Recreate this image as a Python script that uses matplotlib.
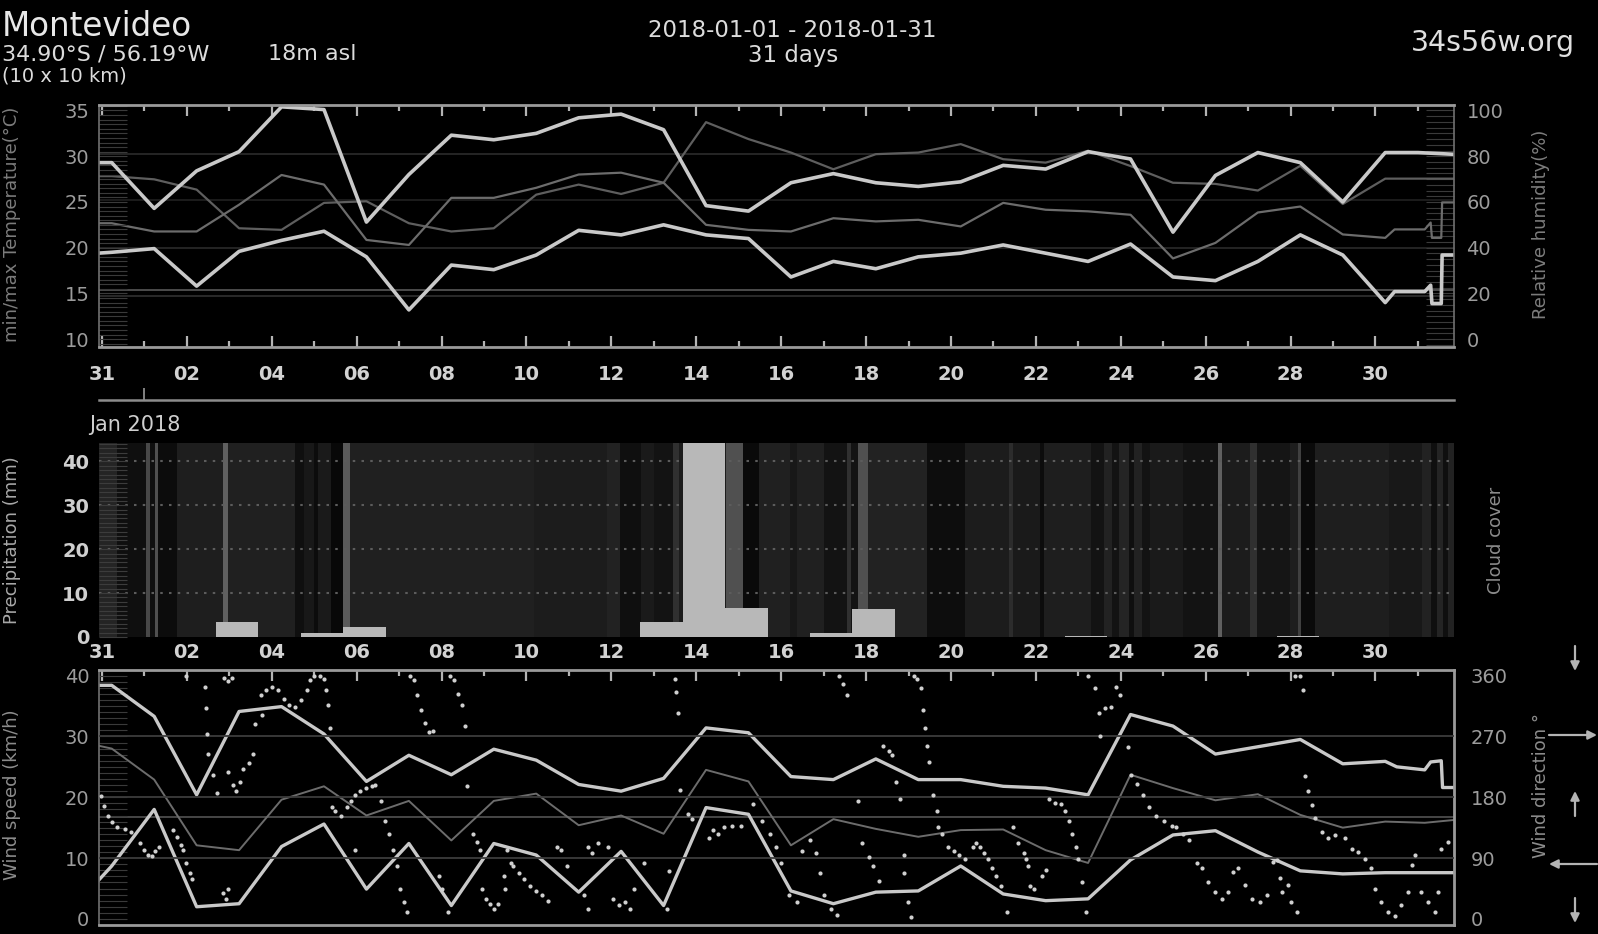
import numpy as np
import matplotlib
matplotlib.use("Agg")
import matplotlib.pyplot as plt
from matplotlib.colors import LinearSegmentedColormap
from matplotlib.ticker import MultipleLocator, FixedLocator

# ------------------------------------------------------------------ data
# day number 0 = Dec 31, 1 = Jan 01 ... ; daily values for days 0..30
days = list(range(31))
tick_days = list(range(0, 31, 2))
tick_labels = ["31"] + ["%02d" % d for d in range(2, 31, 2)]

tmax = [29.3, 24.3, 28.4, 30.5, 35.4, 35.1, 22.8, 28.0, 32.3, 31.8, 32.5, 34.2, 34.6, 32.9, 24.6, 24.0,
        27.1, 28.1, 27.1, 26.7, 27.2, 29.0, 28.6, 30.5, 29.7, 21.7, 27.9, 30.4, 29.3, 25.0, 30.4]
tmin = [19.5, 19.9, 15.8, 19.6, 20.8, 21.8, 19.0, 13.2, 18.1, 17.6, 19.2, 21.9, 21.4, 22.5, 21.4, 21.0,
        16.8, 18.5, 17.7, 19.0, 19.4, 20.3, 19.4, 18.5, 20.4, 16.8, 16.4, 18.5, 21.4, 19.2, 14.0]
rh_a = [71.3, 69.9, 65.4, 48.5, 47.8, 59.6, 60.3, 50.7, 47.1, 48.5, 63.2, 67.6, 63.5, 68.4, 94.9, 87.5,
        81.6, 74.3, 80.9, 81.6, 85.3, 78.7, 77.2, 82.4, 75.7, 68.4, 67.9, 65.0, 75.8, 59.1, 70.2]
rh_b = [50.7, 47.1, 47.1, 58.8, 71.8, 67.6, 43.4, 41.2, 61.8, 61.8, 66.2, 72.0, 72.8, 68.4, 50.0, 47.8,
        47.1, 52.9, 51.5, 52.2, 49.3, 59.6, 56.6, 55.9, 54.4, 35.3, 42.1, 55.4, 58.0, 45.8, 44.3]
# first-hour values and hourly tail at the end of the period
tmax_start, tmin_start, rh_a_start, rh_b_start = 29.3, 19.4, 71.3, 50.7
tmax_tail_t, tmax_tail = [31.0, 31.9], [30.4, 30.2]
tmin_tail_t = [30.45, 31.16, 31.30, 31.33, 31.55, 31.57, 31.9]
tmin_tail = [15.2, 15.2, 15.9, 13.9, 13.9, 19.2, 19.2]
rh_a_tail_t, rh_a_tail = [31.9], [70.2]
rh_b_tail_t = [30.45, 31.16, 31.30, 31.33, 31.55, 31.57, 31.9]
rh_b_tail = [48.0, 48.0, 51.0, 44.3, 44.3, 59.8, 59.8]

precip_day = [3, 5, 6, 13, 14, 15, 17, 18, 23, 28]
precip_mm = [3.4, 0.8, 2.3, 3.4, 52.0, 6.5, 0.9, 6.3, 0.2, 0.3]

cloud_edges = [-0.1, 0.36, 1.04, 1.12, 1.26, 1.33, 1.76, 2.84, 2.98, 4.55, 4.75, 5.0, 5.1, 5.4, 5.68,
               5.85, 10.18, 11.9, 12.2, 12.7, 13.0, 13.45, 13.6, 14.7, 15.1, 15.47, 16.2, 16.37, 17.0,
               17.54, 17.65, 17.8, 18.05, 19.43, 20.33, 21.37, 21.45, 22.1, 22.2, 23.3, 23.6, 23.8,
               23.95, 24.2, 24.3, 24.5, 24.7, 25.47, 26.28, 26.38, 27.05, 27.2, 27.98, 28.18, 28.25,
               28.57, 30.33, 31.1, 31.3, 31.45, 31.6, 31.7, 31.9]
cloud_cover = [30, 10, 64, 10, 71, 7, 24, 87, 26, 10, 18, 7, 20, 3, 81,
               26, 22, 28, 10, 20, 14, 41, 22, 71, 5, 26, 18, 26,
               14, 41, 14, 71, 28, 8, 22, 37, 20, 7, 24, 14, 28,
               14, 30, 10, 28, 14, 20, 14, 87, 22, 41, 15, 24, 56,
               5, 24, 18, 28, 10, 30, 10, 28]

wmax = [38.4, 33.3, 20.4, 34.1, 34.9, 30.4, 22.6, 26.9, 23.7, 27.9, 26.1, 22.1, 21.0, 23.1, 31.4, 30.6,
        23.4, 22.9, 26.3, 22.9, 22.9, 21.8, 21.5, 20.4, 33.6, 31.7, 27.1, 28.3, 29.5, 25.5, 25.9]
wmean = [28.0, 22.9, 12.1, 11.3, 19.6, 21.8, 17.0, 19.4, 12.9, 19.4, 20.6, 15.4, 17.0, 14.0, 24.5, 22.6,
         12.1, 16.4, 14.8, 13.5, 14.6, 14.7, 11.3, 9.2, 23.7, 21.5, 19.5, 20.5, 17.1, 15.0, 16.0]
wmin = [8.7, 18.0, 2.0, 2.5, 11.9, 15.6, 4.9, 12.4, 2.2, 12.4, 10.5, 4.4, 11.1, 2.2, 18.3, 17.2,
        4.6, 2.5, 4.4, 4.6, 8.7, 4.1, 3.0, 3.3, 9.7, 13.8, 14.5, 11.0, 7.9, 7.4, 7.6]
wmax_start, wmean_start, wmin_start = 38.4, 28.5, 6.2
wmax_tail_t = [30.5, 31.16, 31.30, 31.55, 31.58, 31.9]
wmax_tail = [25.0, 24.5, 25.8, 26.0, 21.6, 21.6]
wmean_tail_t, wmean_tail = [31.16, 31.9], [15.8, 16.3]
wmin_tail_t, wmin_tail = [31.9], [7.6]

# wind direction observations (day, degrees)
wdir_time = [
    -0.02, 0.05, 0.14, 0.23, 0.36, 0.54, 0.68, 0.90, 0.99, 1.08, 1.17, 1.26, 1.35, 1.67, 1.76, 1.85, 1.91, 1.98, 2.07, 2.12,
    1.98, 2.43, 2.45, 2.48, 2.50, 2.61, 2.70, 2.88, 2.97, 3.06, 2.84, 2.93, 2.97, 2.97, 3.08, 3.15, 3.24, 3.33, 3.47, 3.56,
    3.60, 3.78, 3.74, 3.87, 4.00, 4.14, 4.28, 4.41, 4.55, 4.68, 4.82, 4.91, 5.00, 5.14, 5.23, 5.27, 5.32, 5.36,
    5.41, 5.50, 5.63, 5.77, 5.86, 5.95, 6.08, 6.22, 6.35, 6.44, 5.95, 6.58, 6.67, 6.76, 6.85, 6.94, 7.03, 7.12, 7.19,
    7.25, 7.34, 7.43, 7.52, 7.61, 7.70, 7.79, 8.20, 8.29, 8.38, 8.47, 8.56, 8.60, 7.93, 8.02, 8.15,
    8.74, 8.83, 8.90, 8.96, 9.05, 9.14, 9.23, 9.32, 9.46, 9.55, 9.64, 9.68, 9.50, 9.82, 9.95, 10.09, 10.23, 10.36, 10.50,
    10.72, 10.81, 10.95, 11.44, 11.55, 11.35, 11.44,
    11.68, 11.91, 12.05, 12.18, 12.32, 12.45, 12.54, 12.77, 13.30, 13.35, 13.49, 13.53, 13.58, 13.62, 13.80, 13.89,
    14.30, 14.39, 14.52, 14.66, 14.84, 15.06, 15.33, 15.56, 15.74, 15.87, 16.00, 16.19, 16.37, 16.50, 16.68, 16.82,
    16.91, 17.00, 17.18, 17.32,
    17.36, 17.45, 17.54, 17.81, 17.90, 18.08, 18.17, 18.30, 18.40, 18.53, 18.62, 18.71, 18.80, 18.89, 18.89, 18.98,
    19.07, 19.12, 19.21, 19.30, 19.34, 19.38, 19.43, 19.48, 19.57, 19.66, 19.70, 19.79, 19.93, 20.06, 20.20, 20.33,
    20.51, 20.60, 20.69, 20.78, 20.87, 20.96, 21.05, 21.19, 21.32,
    21.46, 21.59, 21.73, 21.77, 21.82, 21.86, 21.95, 22.14, 22.23, 22.32, 22.45, 22.59, 22.68, 22.77, 22.86, 22.95,
    22.99, 23.08, 23.17, 23.22, 23.40, 23.49, 23.50, 23.62, 23.76, 23.89, 23.98, 24.16, 24.25, 24.39, 24.52, 24.66,
    24.84, 25.02, 25.20, 25.29, 25.47, 25.60, 25.80,
    25.91, 26.06, 26.22, 26.38, 26.53, 26.65, 26.77, 26.93, 27.08, 27.28, 27.44, 27.59, 27.67, 27.75, 27.79, 27.95,
    28.02, 28.14, 28.10, 28.22, 28.30, 28.34, 28.42, 28.50, 28.57, 28.73, 28.89, 29.04, 29.28, 29.44, 29.60, 29.75,
    29.90, 29.98, 30.14, 30.30, 30.45, 30.61, 30.77, 30.85, 30.93, 31.08, 31.24, 31.40, 31.47, 31.55, 31.71]
wdir_deg = [
    182, 167, 153, 143, 136, 133, 129, 112, 102, 95, 93, 100, 107, 131, 121, 109, 102, 83, 68, 59,
    359, 343, 312, 273, 244, 213, 186, 357, 352, 357, 39, 30, 44, 218, 198, 189, 203, 222, 230, 244,
    288, 302, 331, 338, 343, 338, 326, 316, 314, 324, 338, 353, 359, 359, 355, 338, 316, 283,
    165, 160, 153, 165, 174, 184, 189, 194, 196, 198, 102, 174, 145, 126, 102, 78, 44, 25, 10,
    359, 353, 331, 309, 290, 276, 278, 359, 353, 333, 316, 285, 196, 63, 44, 10,
    126, 114, 102, 44, 30, 22, 15, 22, 63, 102, 83, 78, 44, 68, 59, 49, 42, 35, 27,
    107, 102, 78, 107, 97, 35, 15,
    112, 107, 30, 20, 25, 15, 44, 83, 15, 71, 355, 336, 304, 191, 155, 148,
    119, 131, 126, 136, 138, 138, 170, 145, 126, 107, 83, 35, 25, 100, 117, 97,
    68, 35, 15, 6,
    359, 348, 331, 174, 112, 92, 78, 56, 256, 249, 242, 203, 177, 95, 68, 25,
    3, 359, 355, 341, 309, 283, 256, 232, 184, 160, 136, 126, 107, 100, 95, 88,
    107, 112, 107, 97, 88, 76, 64, 49, 10,
    136, 112, 97, 88, 78, 49, 44, 64, 73, 177, 172, 170, 160, 145, 126, 107,
    88, 54, 10, 359, 341, 305, 271, 312, 314, 343, 331, 254, 213, 199, 184, 165,
    153, 145, 138, 136, 126, 117, 83,
    75, 55, 40, 30, 40, 70, 75, 50, 30, 25, 35, 84, 87, 60, 40, 50,
    25, 10, 359, 359, 338, 211, 189, 169, 149, 129, 119, 124, 119, 104, 99, 89,
    75, 45, 25, 10, 5, 20, 40, 80, 94, 40, 25, 10, 40, 104, 114]

# ------------------------------------------------------------------ helpers
W, H = 1598, 934
XL, XR = 99, 1454
X0, X1 = -0.07, 31.85
OBS = 0.23          # daily observations are plotted at this fraction of a day
T_START = -0.1

def rect(x0, y0, x1, y1):
    return [x0 / W, 1 - y1 / H, (x1 - x0) / W, (y1 - y0) / H]

def series(start, vals, tail_t, tail_v):
    t = np.concatenate([[T_START], np.array(days) + OBS, tail_t])
    v = np.concatenate([[start], vals, tail_v])
    return t, v

BRIGHT = "#c9c9c9"
LBL = "#9c9c9c"
TCK = "#d2d2d2"

fig = plt.figure(figsize=(W / 100, H / 100), dpi=100, facecolor="black")

def xdays(ax, labels=True, top=True, bottom=True, pad=13, length=8):
    ax.set_xlim(X0, X1)
    ax.xaxis.set_major_locator(FixedLocator(tick_days))
    ax.xaxis.set_minor_locator(FixedLocator(list(range(1, 32, 2))))
    if labels:
        ax.set_xticklabels(tick_labels, fontweight="bold")
    else:
        ax.set_xticklabels([])
    ax.tick_params(axis="x", which="major", direction="in", top=top, bottom=bottom,
                   length=length, width=1.6, color="#b4b4b4", labelsize=14,
                   labelcolor=TCK, pad=pad)
    ax.tick_params(axis="x", which="minor", direction="in", top=top, bottom=bottom,
                   length=length / 2, width=1.6, color="#b4b4b4")

# ------------------------------------------------------------------ top panel
ax_t = fig.add_axes(rect(XL, 105, XR, 346.5))
ax_h = ax_t.twinx()
ax_t.set_ylim(9.2, 35.6)
ax_h.set_ylim((9.2 - 10) * 4, (35.6 - 10) * 4)
ax_t.set_facecolor("black")
ax_h.patch.set_visible(False)

for y, c in zip([81, 61, 40, 21.7, 18.8], ["#262626", "#1c1c1c", "#242424", "#4c4c4c", "#2a2a2a"]):
    ax_h.axhline(y, color=c, lw=1.4, zorder=0)
t, v = series(rh_a_start, rh_a, rh_a_tail_t, rh_a_tail)
ax_h.plot(t, v, color="#5e5e5e", lw=1.6)
t, v = series(rh_b_start, rh_b, rh_b_tail_t, rh_b_tail)
ax_h.plot(t, v, color="#6c6c6c", lw=1.6)

ax_t.set_zorder(ax_h.get_zorder() + 1)
ax_t.patch.set_visible(False)
t, v = series(tmax_start, tmax, tmax_tail_t, tmax_tail)
ax_t.plot(t, v, color=BRIGHT, lw=2.6, solid_joinstyle="round")
t, v = series(tmin_start, tmin, tmin_tail_t, tmin_tail)
ax_t.plot(t, v, color=BRIGHT, lw=2.6, solid_joinstyle="round")

xdays(ax_t, labels=True, pad=13)
ax_t.set_yticks([10, 15, 20, 25, 30, 35])
ax_t.yaxis.set_minor_locator(MultipleLocator(0.5))
ax_t.tick_params(axis="y", which="both", direction="in", length=20, width=0.8,
                 color="#3a3a3a", labelsize=14, labelcolor=LBL, pad=7)
ax_h.set_yticks([0, 20, 40, 60, 80, 100])
ax_h.yaxis.set_minor_locator(MultipleLocator(2.5))
ax_h.tick_params(axis="y", which="both", direction="in", length=20, width=0.8,
                 color="#3a3a3a", labelsize=14, labelcolor=LBL, pad=9)
for s in ax_h.spines.values():
    s.set_visible(False)
for s in ["top", "bottom"]:
    ax_t.spines[s].set_color("#9a9a9a")
    ax_t.spines[s].set_linewidth(2)
for s in ["left", "right"]:
    ax_t.spines[s].set_color("#707070")
    ax_t.spines[s].set_linewidth(1.2)

# ------------------------------------------------------------------ month axis
ax_mo = fig.add_axes(rect(XL, 390, XR, 399.5))
ax_mo.set_xlim(X0, X1)
ax_mo.set_ylim(0, 1)
ax_mo.patch.set_visible(False)
for s in ["top", "left", "right"]:
    ax_mo.spines[s].set_visible(False)
ax_mo.spines["bottom"].set_color("#8c8c8c")
ax_mo.spines["bottom"].set_linewidth(1.8)
ax_mo.set_xticks([1])
ax_mo.set_xticklabels([])
ax_mo.set_yticks([])
ax_mo.tick_params(axis="x", direction="in", length=9, width=1.3, color="#8c8c8c")
fig.text(89 / W, 1 - 425 / H, "Jan 2018", fontsize=15, color="#cfcfcf", ha="left", va="center")

# ------------------------------------------------------------------ precipitation / cloud panel
ax_p = fig.add_axes(rect(XL, 443, XR, 637))
ax_p.set_facecolor("black")
cloud_cmap = LinearSegmentedColormap.from_list("cc", ["#050505", "#6e6e6e"])
ax_p.pcolormesh(cloud_edges, [0, 100], [cloud_cover], cmap=cloud_cmap, vmin=0, vmax=100,
                shading="flat", zorder=0)
for y in [10, 20, 30, 40]:
    ax_p.axhline(y, color="#5c5c5c", lw=1.5, ls=(0, (1.2, 3)), zorder=1)
ax_p.bar(np.array(precip_day) + 0.18, precip_mm, width=1.0, color="#b8b8b8", zorder=3)
ax_p.set_ylim(0, 44.2)
xdays(ax_p, labels=True, top=False, bottom=True, pad=4, length=0)
ax_p.set_yticks([0, 10, 20, 30, 40])
ax_p.set_yticklabels(["0", "10", "20", "30", "40"], fontweight="bold")
ax_p.yaxis.set_minor_locator(MultipleLocator(1))
ax_p.tick_params(axis="y", which="both", direction="in", length=20, width=0.8,
                 color="#3c3c3c", labelsize=14, labelcolor="#cfcfcf", pad=7)
for s in ax_p.spines.values():
    s.set_visible(False)

# ------------------------------------------------------------------ wind panel
ax_w = fig.add_axes(rect(XL, 669.5, XR, 925))
ax_w.set_facecolor("black")
ax_d = ax_w.twinx()
ax_w.set_ylim(-1, 41)
ax_d.set_ylim(-9, 369)
for y in [270, 180, 90]:
    ax_d.axhline(y, color="#3c3c3c", lw=1.3, zorder=0)
ax_w.axhline(16.8, color="#4c4c4c", lw=1.3, zorder=0)

t, v = series(wmax_start, wmax, wmax_tail_t, wmax_tail)
ax_w.plot(t, v, color=BRIGHT, lw=2.4, solid_joinstyle="round")
t, v = series(wmean_start, wmean, wmean_tail_t, wmean_tail)
ax_w.plot(t, v, color="#6c6c6c", lw=1.4)
t, v = series(wmin_start, wmin, wmin_tail_t, wmin_tail)
ax_w.plot(t, v, color=BRIGHT, lw=2.4, solid_joinstyle="round")
ax_d.plot(wdir_time, wdir_deg, ls="none", marker="o", ms=3.0, mec="none", mfc="#d0d0d0")

xdays(ax_w, labels=False, top=True, bottom=False)
ax_w.set_yticks([0, 10, 20, 30, 40])
ax_w.yaxis.set_minor_locator(MultipleLocator(1))
ax_w.tick_params(axis="y", which="both", direction="in", length=20, width=0.8,
                 color="#3a3a3a", labelsize=14, labelcolor=LBL, pad=7)
ax_d.set_yticks([0, 90, 180, 270, 360])
ax_d.tick_params(axis="y", which="both", length=0, labelsize=14, labelcolor=LBL, pad=12)
for s in ax_d.spines.values():
    s.set_visible(False)
for s in ["top", "bottom", "right"]:
    ax_w.spines[s].set_color("#9a9a9a")
    ax_w.spines[s].set_linewidth(2)
ax_w.spines["left"].set_color("#707070")
ax_w.spines["left"].set_linewidth(1.2)

# direction arrows at the right margin (figure pixels, y measured from top)
arr = dict(arrowstyle="-|>", color="#b4b4b4", lw=1.6, mutation_scale=13, shrinkA=0, shrinkB=0)
for (xa, ya), (xb, yb) in [((1575, 646), (1575, 671)), ((1549, 735), (1597, 735)),
                           ((1575, 816), (1575, 791)), ((1597, 864), (1549, 864)),
                           ((1575, 898), (1575, 923))]:
    fig.add_artist(matplotlib.patches.FancyArrowPatch((xa / W, 1 - ya / H), (xb / W, 1 - yb / H),
                                                      transform=fig.transFigure, **arr))

# ------------------------------------------------------------------ texts
fig.text(2 / W, 1 - 36 / H, "Montevideo", fontsize=23.5, color="#e8e8e8", ha="left", va="baseline")
fig.text(2 / W, 1 - 60.5 / H, "34.90°S / 56.19°W", fontsize=16, color="#dcdcdc",
         ha="left", va="baseline")
fig.text(268 / W, 1 - 60.5 / H, "18m asl", fontsize=16, color="#dcdcdc",
         ha="left", va="baseline")
fig.text(2 / W, 1 - 81 / H, "(10 x 10 km)", fontsize=14, color="#dcdcdc", ha="left", va="baseline")
fig.text(792 / W, 1 - 37 / H, "2018-01-01 - 2018-01-31", fontsize=16.5, color="#dcdcdc",
         ha="center", va="baseline")
fig.text(793 / W, 1 - 62 / H, "31 days", fontsize=16.5, color="#dcdcdc", ha="center", va="baseline")
fig.text(1575 / W, 1 - 51 / H, "34s56w.org", fontsize=20.5, color="#e0e0e0", ha="right", va="baseline")

axlab = dict(rotation=90, ha="center", va="center", fontsize=13)
fig.text(12 / W, 1 - 224 / H, "min/max Temperature(°C)", color="#7c7c7c", **axlab)
fig.text(12 / W, 1 - 540 / H, "Precipitation (mm)", color="#a8a8a8", **axlab)
fig.text(12 / W, 1 - 795 / H, "Wind speed (km/h)", color="#8c8c8c", **axlab)
fig.text(1541 / W, 1 - 224 / H, "Relative humidity(%)", color="#7c7c7c", **axlab)
fig.text(1496 / W, 1 - 540 / H, "Cloud cover", color="#8c8c8c", **axlab)
fig.text(1541 / W, 1 - 785 / H, "Wind direction °", color="#8c8c8c", **axlab)

fig.savefig("out.png", dpi=100, facecolor="black")
